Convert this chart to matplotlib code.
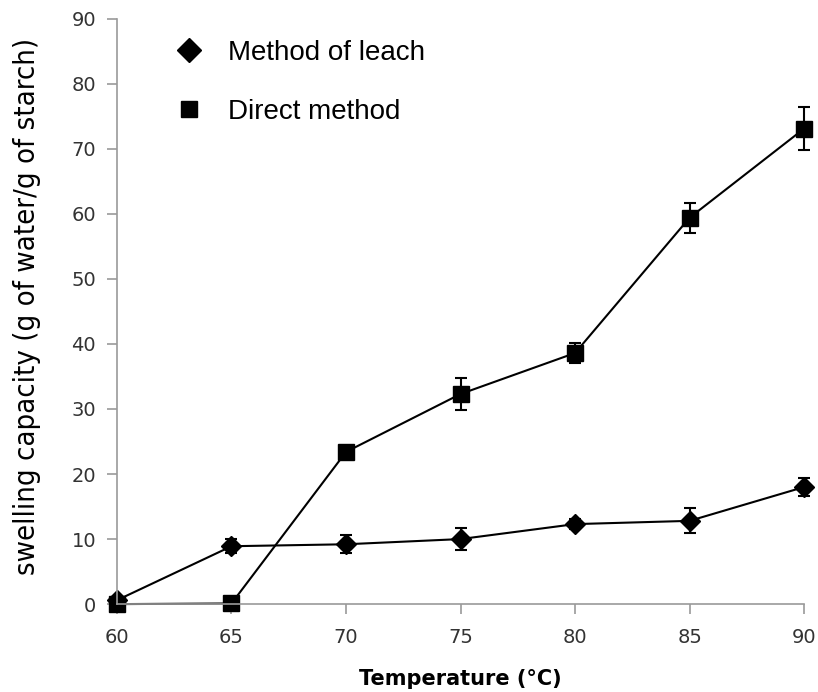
import matplotlib as mpl
mpl.use('agg')
import matplotlib.pyplot as plt
import numpy as np

temp = [60, 65, 70, 75, 80, 85, 90]

leach = [0.6, 8.9, 9.2, 10.0, 12.3, 12.8, 18.0]
leach_err = [0.0, 1.1, 1.35, 1.7, 0.75, 1.9, 1.35]

direct = [0.0, 0.1, 23.4, 32.3, 38.6, 59.4, 73.1]
direct_err = [0.0, 0.0, 0.0, 2.4, 1.6, 2.3, 3.3]

fig = plt.figure(figsize=(8.18, 6.92), dpi=100)
ax = fig.add_axes([0.143, 0.127, 0.840, 0.846])

for y, e, m, ms, lab in [(leach, leach_err, 'D', 10, 'Method of leach'),
                         (direct, direct_err, 's', 11, 'Direct method')]:
    art = ax.errorbar(temp, y, yerr=e, color='black', marker=m, markersize=ms,
                      lw=1.5, capsize=4, elinewidth=1.5, capthick=1.5, label=lab)
    for a in art.get_children():
        a.set_clip_on(False)

ax.set_xlim(60, 90)
ax.set_ylim(0, 90)
ax.set_xticks(temp)
ax.set_yticks(np.arange(0, 91, 10))

for s in ['top', 'right']:
    ax.spines[s].set_visible(False)
for s in ['left', 'bottom']:
    ax.spines[s].set_color('#9a9a9a')
    ax.spines[s].set_linewidth(1.2)

ax.tick_params(axis='both', colors='#9a9a9a', length=7, width=1.2, labelsize=14,
               labelcolor='#333333', direction='out')
ax.tick_params(axis='x', pad=10)
ax.tick_params(axis='y', pad=8)

ax.set_xlabel('Temperature (°C)', fontsize=15, fontweight='bold', labelpad=16)
ax.set_ylabel('swelling capacity (g of water/g of starch)',
              family='DejaVu Sans', fontstretch='condensed', fontsize=21)
ax.yaxis.set_label_coords(-0.11, 0.508)

h, l = ax.get_legend_handles_labels()
h = [hh[0] for hh in h]
leg = ax.legend(h, l, loc='upper left', bbox_to_anchor=(0.048, 1.006), frameon=False,
                prop={'family': 'Liberation Sans', 'size': 20}, labelspacing=1.18,
                handlelength=1.0, handletextpad=0.9)
for lh, ms in zip(leg.legend_handles, [12, 12]):
    lh.set_linestyle('none')
    lh.set_markersize(ms)

fig.savefig('out.png', dpi=100)
